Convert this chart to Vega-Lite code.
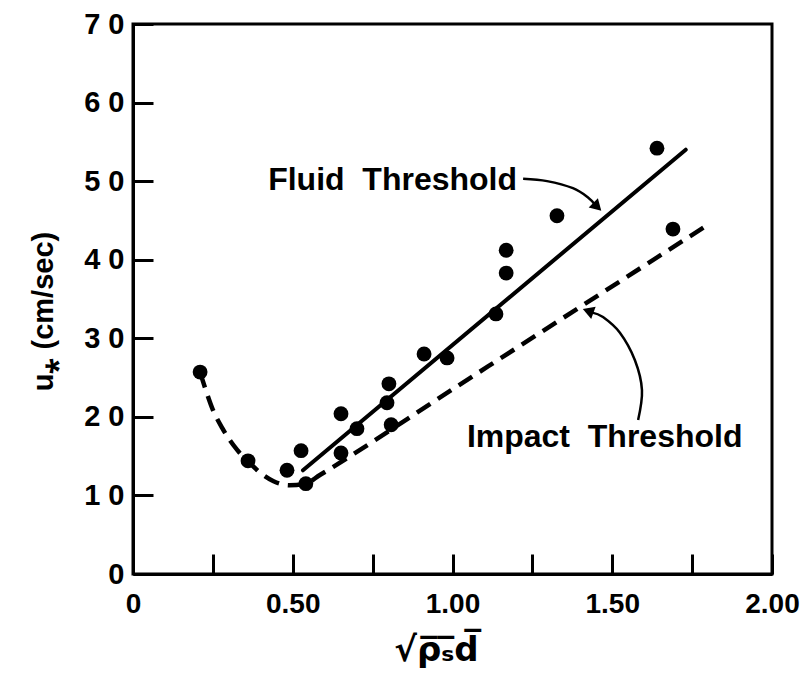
{
  "$schema": "https://vega.github.io/schema/vega-lite/v6.json",
  "width": 639,
  "height": 550,
  "autosize": "none",
  "padding": {"left": 133, "top": 24, "right": 40, "bottom": 115},
  "background": "white",
  "config": {"view": {"stroke": "black", "strokeWidth": 3}, "font": "Liberation Sans"},
  "datasets": {
    "pts": [
      {"x": 0.210, "y": 25.7}, {"x": 0.360, "y": 14.4}, {"x": 0.482, "y": 13.2},
      {"x": 0.526, "y": 15.7}, {"x": 0.541, "y": 11.5}, {"x": 0.651, "y": 20.4},
      {"x": 0.651, "y": 15.4}, {"x": 0.701, "y": 18.5}, {"x": 0.801, "y": 24.2},
      {"x": 0.795, "y": 21.8}, {"x": 0.808, "y": 19.0}, {"x": 0.911, "y": 28.0},
      {"x": 0.983, "y": 27.5}, {"x": 1.136, "y": 33.1}, {"x": 1.168, "y": 41.2},
      {"x": 1.168, "y": 38.3}, {"x": 1.327, "y": 45.6}, {"x": 1.640, "y": 54.2},
      {"x": 1.690, "y": 43.9}
    ],
    "fluid": [{"x": 0.532, "y": 13.2}, {"x": 1.73, "y": 54.0}],
    "impact": [
      {"x": 0.210, "y": 25.7}, {"x": 0.228, "y": 23.4}, {"x": 0.250, "y": 20.9},
      {"x": 0.279, "y": 18.6}, {"x": 0.326, "y": 15.8}, {"x": 0.366, "y": 14.1},
      {"x": 0.404, "y": 12.7}, {"x": 0.440, "y": 11.8}, {"x": 0.490, "y": 11.3},
      {"x": 0.540, "y": 11.5}, {"x": 0.585, "y": 12.6}, {"x": 1.0, "y": 23.5},
      {"x": 1.4, "y": 34.0}, {"x": 1.79, "y": 44.2}
    ],
    "arrows": [
      {"arrow": "fluid", "i": 0, "x": 1.221, "y": 50.3},
      {"arrow": "fluid", "i": 1, "x": 1.296, "y": 50.0},
      {"arrow": "fluid", "i": 2, "x": 1.377, "y": 49.1},
      {"arrow": "fluid", "i": 3, "x": 1.425, "y": 47.9},
      {"arrow": "fluid", "i": 4, "x": 1.446, "y": 47.0},
      {"arrow": "impact", "i": 0, "x": 1.581, "y": 19.6},
      {"arrow": "impact", "i": 1, "x": 1.593, "y": 23.4},
      {"arrow": "impact", "i": 2, "x": 1.571, "y": 27.2},
      {"arrow": "impact", "i": 3, "x": 1.524, "y": 30.7},
      {"arrow": "impact", "i": 4, "x": 1.471, "y": 32.7},
      {"arrow": "impact", "i": 5, "x": 1.435, "y": 33.3}
    ],
    "headFluid": [{"x": 1.449, "y": 46.9}],
    "headImpact": [{"x": 1.430, "y": 33.4}],
    "labels": [
      {"label": "Fluid\u00a0 Threshold", "x": 0.423, "y": 48.9},
      {"label": "Impact\u00a0 Threshold", "x": 1.045, "y": 16.2}
    ]
  },
  "encoding": {
    "x": {
      "field": "x", "type": "quantitative",
      "scale": {"domain": [0, 2], "nice": false, "zero": false},
      "axis": {
        "values": [0, 0.25, 0.5, 0.75, 1, 1.25, 1.5, 1.75, 2],
        "labelExpr": "datum.value == 0 ? '0' : (round(datum.value*4) % 2 == 1 ? '' : format(datum.value, '.2f'))",
        "tickSize": -20, "tickWidth": 3, "tickColor": "black",
        "domainColor": "black", "domainWidth": 3, "grid": false,
        "labelFont": "Liberation Sans", "labelFontSize": 28, "labelFontWeight": "bold",
        "labelColor": "black", "labelPadding": 36, "labelFlush": false, "labelOverlap": false,
        "title": "\u221A\u03C1\u0305\u209B\u0305d\u0305",
        "titleFont": "DejaVu Sans", "titleFontSize": 34, "titleFontWeight": "bold", "titleColor": "black",
        "titleX": 303, "titleY": 86, "titleBaseline": "alphabetic", "titleAlign": "center"
      }
    },
    "y": {
      "field": "y", "type": "quantitative",
      "scale": {"domain": [0, 70], "nice": false, "zero": false},
      "axis": {
        "values": [0, 10, 20, 30, 40, 50, 60, 70],
        "labelExpr": "datum.value == 0 ? '0' : format(datum.value/10, 'd') + ' 0'",
        "tickSize": -20, "tickWidth": 3, "tickColor": "black",
        "domainColor": "black", "domainWidth": 3, "grid": false,
        "labelFont": "Liberation Sans", "labelFontSize": 29, "labelFontWeight": "bold",
        "labelColor": "black", "labelPadding": 29, "labelOverlap": false,
        "title": "u\u204E (cm/sec)",
        "titleFont": "Liberation Sans", "titleFontSize": 29, "titleFontWeight": "bold", "titleColor": "black",
        "titleAngle": 270, "titleX": -90, "titleY": 287, "titleAlign": "center", "titleBaseline": "middle"
      }
    }
  },
  "layer": [
    {
      "data": {"name": "impact"},
      "mark": {"type": "line", "interpolate": "monotone", "strokeDash": [16, 9], "strokeWidth": 4.5, "color": "black"},
      "encoding": {}
    },
    {
      "data": {"name": "fluid"},
      "mark": {"type": "line", "strokeWidth": 4, "color": "black", "strokeCap": "round"},
      "encoding": {}
    },
    {
      "data": {"name": "arrows"},
      "mark": {"type": "line", "interpolate": "cardinal", "strokeWidth": 2.5, "color": "black"},
      "encoding": {"detail": {"field": "arrow"}, "order": {"field": "i", "type": "quantitative"}}
    },
    {
      "data": {"name": "headFluid"},
      "mark": {"type": "point", "shape": "triangle", "angle": 135, "filled": true, "size": 170, "color": "black", "opacity": 1},
      "encoding": {}
    },
    {
      "data": {"name": "headImpact"},
      "mark": {"type": "point", "shape": "triangle", "angle": 290, "filled": true, "size": 170, "color": "black", "opacity": 1},
      "encoding": {}
    },
    {
      "data": {"name": "pts"},
      "mark": {"type": "point", "shape": "circle", "filled": true, "size": 220, "color": "black", "opacity": 1},
      "encoding": {}
    },
    {
      "data": {"name": "labels"},
      "mark": {"type": "text", "align": "left", "baseline": "alphabetic", "font": "Liberation Sans", "fontSize": 32, "fontWeight": "bold", "color": "black"},
      "encoding": {"text": {"field": "label"}}
    }
  ]
}
